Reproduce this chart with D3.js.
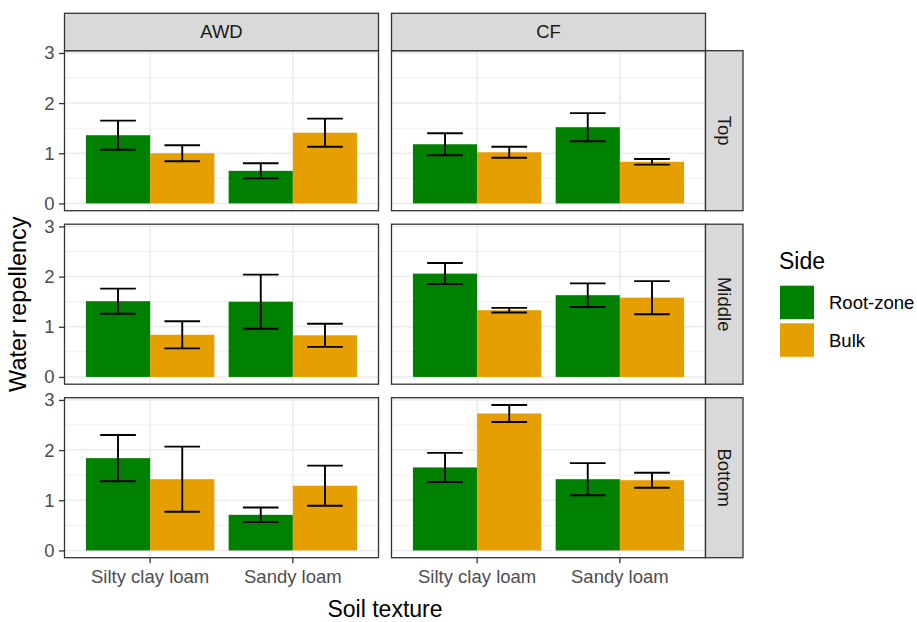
<!DOCTYPE html>
<html>
<head>
<meta charset="utf-8">
<script src="https://cdn.jsdelivr.net/npm/d3@7"></script>
<style>
  html, body { margin: 0; padding: 0; background: #fff; }
  svg { display: block; font-family: "Liberation Sans", Arial, sans-serif; }
</style>
</head>
<body>
<svg id="chart" width="917" height="622"></svg>
<script>
// Facet levels and categories
const irrigation = ["AWD", "CF"];
const depths = ["Top", "Middle", "Bottom"];
const textures = ["Silty clay loam", "Sandy loam"];
const sides = ["Root-zone", "Bulk"];
const yTicks = [0, 1, 2, 3];
const yMinorTicks = [0.5, 1.5, 2.5];

// Mean water repellency; rows = depth (Top, Middle, Bottom),
// columns = Silty clay loam (Root-zone, Bulk), Sandy loam (Root-zone, Bulk)
const awdMeans = [
  [1.36, 1.00, 0.65, 1.41],
  [1.51, 0.84, 1.50, 0.83],
  [1.84, 1.42, 0.71, 1.29]
];
const awdSE = [
  [0.29, 0.16, 0.15, 0.28],
  [0.25, 0.27, 0.54, 0.23],
  [0.46, 0.65, 0.145, 0.40]
];
const cfMeans = [
  [1.18, 1.02, 1.52, 0.83],
  [2.06, 1.33, 1.63, 1.58],
  [1.655, 2.73, 1.42, 1.40]
];
const cfSE = [
  [0.22, 0.11, 0.28, 0.056],
  [0.21, 0.046, 0.235, 0.33],
  [0.29, 0.17, 0.32, 0.15]
];

const sideColors = ["#008000", "#E69F00"];

// Long-format records
const records = [];
[[awdMeans, awdSE], [cfMeans, cfSE]].forEach(([m, s], ci) => {
  depths.forEach((dep, ri) => {
    textures.forEach((tex, ti) => {
      sides.forEach((sd, si) => {
        const k = ti * 2 + si;
        records.push({ irr: irrigation[ci], depth: dep, texture: tex, side: sd, mean: m[ri][k], se: s[ri][k] });
      });
    });
  });
});

// Layout
const panelW = 314, panelH = 160;
const colX = [64.5, 391.5];
const rowY = [50.7, 224.2, 397.7];
const stripH = 37.4;
const stripW = 37.5;

const svg = d3.select("#chart");

// Scales (ggplot-style expansion)
const yMax = d3.max(records, d => d.mean + d.se);
const y = d3.scaleLinear()
  .domain([-0.05 * yMax, yMax * 1.05])
  .range([panelH, 0]);

const x = d3.scaleBand()
  .domain(textures)
  .range([0, panelW])
  .paddingInner(0)
  .paddingOuter(0.1);

const xSide = d3.scaleBand()
  .domain(sides)
  .range([0.05 * x.bandwidth(), 0.95 * x.bandwidth()]);

const color = d3.scaleOrdinal().domain(sides).range(sideColors);

const capW = 0.25 * x.bandwidth();
const ebStroke = 1.9;

depths.forEach((dep, ri) => {
  irrigation.forEach((irr, ci) => {
    const g = svg.append("g").attr("transform", `translate(${colX[ci]},${rowY[ri]})`);

    // background + grid
    g.append("rect").attr("width", panelW).attr("height", panelH).attr("fill", "#fff");
    g.selectAll(".minor").data(yMinorTicks).join("line")
      .attr("x1", 0).attr("x2", panelW)
      .attr("y1", d => y(d)).attr("y2", d => y(d))
      .attr("stroke", "#EBEBEB").attr("stroke-width", 0.8);
    g.selectAll(".majorY").data(yTicks).join("line")
      .attr("x1", 0).attr("x2", panelW)
      .attr("y1", d => y(d)).attr("y2", d => y(d))
      .attr("stroke", "#EBEBEB").attr("stroke-width", 1.5);
    g.selectAll(".majorX").data(textures).join("line")
      .attr("x1", d => x(d) + x.bandwidth() / 2).attr("x2", d => x(d) + x.bandwidth() / 2)
      .attr("y1", 0).attr("y2", panelH)
      .attr("stroke", "#EBEBEB").attr("stroke-width", 1.5);

    const data = records.filter(d => d.irr === irr && d.depth === dep);

    // bars
    g.selectAll(".bar").data(data).join("rect")
      .attr("x", d => x(d.texture) + xSide(d.side))
      .attr("width", xSide.bandwidth())
      .attr("y", d => y(d.mean))
      .attr("height", d => y(0) - y(d.mean))
      .attr("fill", d => color(d.side));

    // error bars
    const eb = g.selectAll(".eb").data(data).join("g")
      .attr("transform", d => `translate(${x(d.texture) + xSide(d.side) + xSide.bandwidth() / 2},0)`);
    eb.append("line")
      .attr("x1", 0).attr("x2", 0)
      .attr("y1", d => y(d.mean + d.se)).attr("y2", d => y(d.mean - d.se))
      .attr("stroke", "#000").attr("stroke-width", ebStroke);
    eb.append("line")
      .attr("x1", -capW / 2).attr("x2", capW / 2)
      .attr("y1", d => y(d.mean + d.se)).attr("y2", d => y(d.mean + d.se))
      .attr("stroke", "#000").attr("stroke-width", ebStroke);
    eb.append("line")
      .attr("x1", -capW / 2).attr("x2", capW / 2)
      .attr("y1", d => y(d.mean - d.se)).attr("y2", d => y(d.mean - d.se))
      .attr("stroke", "#000").attr("stroke-width", ebStroke);

    // panel border
    g.append("rect").attr("width", panelW).attr("height", panelH)
      .attr("fill", "none").attr("stroke", "#333333").attr("stroke-width", 1.3);

    // y axis on left column
    if (ci === 0) {
      const ax = g.append("g").call(d3.axisLeft(y).tickValues(yTicks).tickSize(5.5).tickPadding(4.5).tickFormat(d3.format("d")));
      ax.select(".domain").remove();
      ax.selectAll(".tick line").attr("stroke", "#333333").attr("stroke-width", 1.3);
      ax.selectAll(".tick text").attr("fill", "#4D4D4D").style("font-size", "18.5px")
        .style("font-family", "'Liberation Sans', Arial, sans-serif");
    }
    // x axis on bottom row
    if (ri === depths.length - 1) {
      const ax = g.append("g").attr("transform", `translate(0,${panelH})`)
        .call(d3.axisBottom(x).tickSize(5.5).tickPadding(6.5));
      ax.select(".domain").remove();
      ax.selectAll(".tick line").attr("stroke", "#333333").attr("stroke-width", 1.3);
      ax.selectAll(".tick text").attr("fill", "#4D4D4D").style("font-size", "18.5px")
        .style("font-family", "'Liberation Sans', Arial, sans-serif");
    }
  });
});

// column strips
irrigation.forEach((irr, ci) => {
  const g = svg.append("g").attr("transform", `translate(${colX[ci]},${rowY[0] - stripH})`);
  g.append("rect").attr("width", panelW).attr("height", stripH)
    .attr("fill", "#D9D9D9").attr("stroke", "#333333").attr("stroke-width", 1.3);
  g.append("text").attr("x", panelW / 2).attr("y", stripH / 2)
    .attr("text-anchor", "middle").attr("dominant-baseline", "central")
    .attr("fill", "#1A1A1A").style("font-size", "18.5px").text(irr);
});

// row strips
depths.forEach((dep, ri) => {
  const g = svg.append("g").attr("transform", `translate(${colX[1] + panelW},${rowY[ri]})`);
  g.append("rect").attr("width", stripW).attr("height", panelH)
    .attr("fill", "#D9D9D9").attr("stroke", "#333333").attr("stroke-width", 1.3);
  g.append("text")
    .attr("transform", `translate(${stripW / 2},${panelH / 2}) rotate(90)`)
    .attr("text-anchor", "middle").attr("dominant-baseline", "central")
    .attr("fill", "#1A1A1A").style("font-size", "18.5px").text(dep);
});

// axis titles
svg.append("text")
  .attr("x", (colX[0] + colX[1] + panelW) / 2).attr("y", 617)
  .attr("text-anchor", "middle").attr("fill", "#000").style("font-size", "23px")
  .text("Soil texture");
svg.append("text")
  .attr("transform", `translate(26,${(rowY[0] + rowY[2] + panelH) / 2}) rotate(-90)`)
  .attr("text-anchor", "middle").attr("fill", "#000").style("font-size", "23.5px")
  .text("Water repellency");

// legend
const lg = svg.append("g").attr("transform", "translate(780,0)");
lg.append("text").attr("x", -1).attr("y", 269).attr("fill", "#000").style("font-size", "23px").text("Side");
const keyY = [285.7, 323.3];
sides.forEach((sd, i) => {
  lg.append("rect").attr("x", 0).attr("y", keyY[i]).attr("width", 34).attr("height", 33.5)
    .attr("fill", color(sd));
  lg.append("text").attr("x", 49).attr("y", keyY[i] + 16.8)
    .attr("dominant-baseline", "central").attr("fill", "#000").style("font-size", "18.5px").text(sd);
});
</script>
</body>
</html>
